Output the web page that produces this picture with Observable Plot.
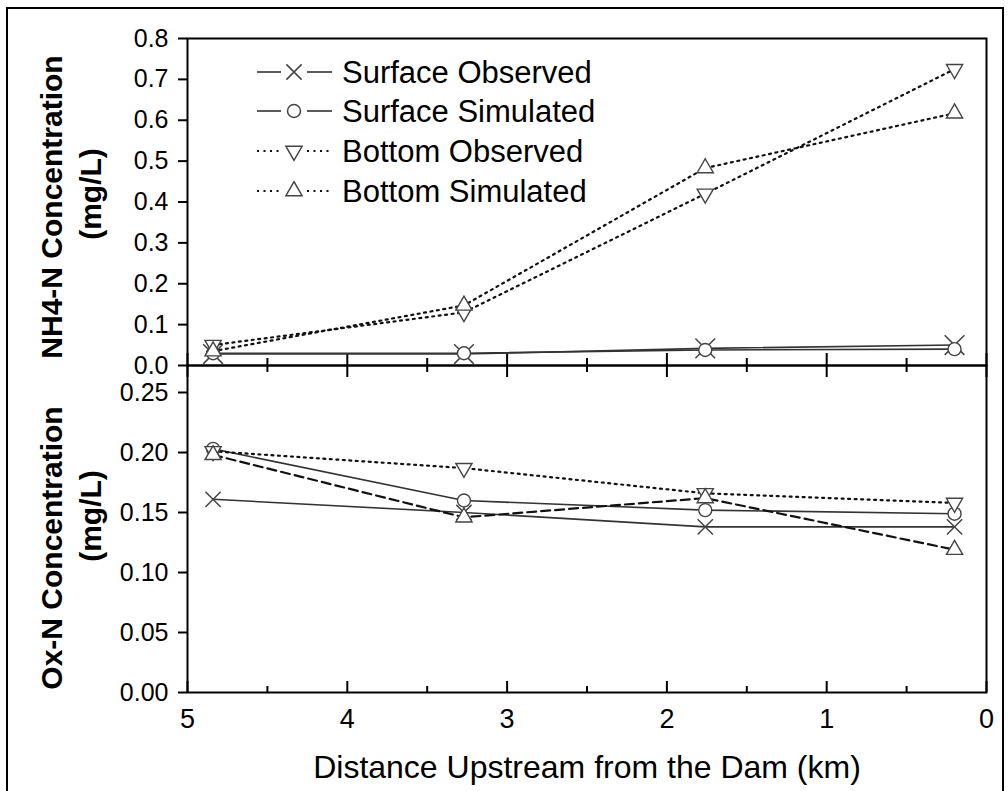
<!DOCTYPE html>
<html><head><meta charset="utf-8">
<script src="https://cdn.jsdelivr.net/npm/d3@7"></script>
<script src="https://cdn.jsdelivr.net/npm/@observablehq/plot@0.6"></script>
<style>
html,body{margin:0;padding:0;background:#fff;}
#wrap{position:relative;width:1008px;height:791px;overflow:hidden;font-family:"Liberation Sans",Arial,sans-serif;}
#wrap svg{position:absolute;left:0;top:0;}
#border{position:absolute;left:6px;top:7px;width:998px;height:820px;border:2px solid #000;box-sizing:border-box;}
</style></head><body><div id="wrap"><div id="border"></div></div>
<script>
// ---- data ----
const distance = [4.84, 3.27, 1.76, 0.20];
const surfObsNH4 = [0.028, 0.028, 0.042, 0.050];
const surfSimNH4 = [0.030, 0.030, 0.038, 0.040];
const botObsNH4  = [0.050, 0.130, 0.420, 0.725];
const botSimNH4  = [0.035, 0.147, 0.483, 0.617];
const surfObsOx  = [0.161, 0.150, 0.138, 0.138];
const surfSimOx  = [0.203, 0.160, 0.152, 0.149];
const botObsOx   = [0.201, 0.187, 0.166, 0.158];
const botSimOx   = [0.198, 0.146, 0.162, 0.119];
const xTicks = [0, 1, 2, 3, 4, 5];
const xMinor = [0.5, 1.5, 2.5, 3.5, 4.5];
const nh4Ticks = [0, 0.1, 0.2, 0.3, 0.4, 0.5, 0.6, 0.7, 0.8];
const oxTicks = [0, 0.05, 0.10, 0.15, 0.20, 0.25];
const seriesNames = ["Surface Observed", "Surface Simulated", "Bottom Observed", "Bottom Simulated"];

// ---- helpers ----
const FONT = '"Liberation Sans", Arial, sans-serif';
const W = 1008, H = 791;
const rows = vals => distance.map((d, i) => ({x: d, y: vals[i]}));
const triangleDown = {
  draw(ctx, size) {
    const y = Math.sqrt(size / (3 * Math.sqrt(3)));
    ctx.moveTo(0, y * 2);
    ctx.lineTo(-Math.sqrt(3) * y, -y);
    ctx.lineTo(Math.sqrt(3) * y, -y);
    ctx.closePath();
  }
};
const LINE = "#333", MK = "#444";
const dotted = {stroke: "#111", strokeWidth: 2.2, strokeDasharray: "2,4.5"};
const dashed = {stroke: "#111", strokeWidth: 2.2, strokeDasharray: "9,5"};
const solid = {stroke: LINE, strokeWidth: 1.6};

function markers(so, ss, bo, bs, xr) {
  return [
    Plot.dot(rows(so), {x: "x", y: "y", symbol: "times", r: xr, stroke: MK, strokeWidth: 1.5}),
    Plot.dot(rows(ss), {x: "x", y: "y", symbol: "circle", r: 6.5, fill: "white", stroke: MK, strokeWidth: 1.4}),
    Plot.dot(rows(bo), {x: "x", y: "y", symbol: triangleDown, r: 6, fill: "white", stroke: MK, strokeWidth: 1.4}),
    Plot.dot(rows(bs), {x: "x", y: "y", symbol: "triangle", r: 6, fill: "white", stroke: MK, strokeWidth: 1.4})
  ];
}

const wrap = document.getElementById("wrap");

// ---- top panel (NH4-N) ----
const topPlot = Plot.plot({
  width: W, height: H,
  marginLeft: 187, marginRight: 22, marginTop: 38, marginBottom: H - 365,
  style: {background: "transparent", fontFamily: FONT, color: "#000", overflow: "visible"},
  x: {domain: [5, 0], axis: null},
  y: {domain: [0, 0.8]},
  marks: [
    Plot.axisY({ticks: nh4Ticks, label: null, tickSize: 9, tickPadding: 10, tickFormat: d3.format(".1f"), strokeWidth: 2, fontSize: 25}),
    Plot.ruleX(xTicks, {x: d => d, y1: 0, y2: 0, insetTop: -12, insetBottom: -12, stroke: "#000", strokeWidth: 2}),
    Plot.ruleX(xMinor, {x: d => d, y1: 0, y2: 0, insetTop: -7, insetBottom: -7, stroke: "#000", strokeWidth: 2}),
    Plot.line(rows(surfObsNH4), {x: "x", y: "y", ...solid}),
    Plot.line(rows(surfSimNH4), {x: "x", y: "y", ...solid}),
    Plot.line(rows(botObsNH4), {x: "x", y: "y", ...dotted}),
    Plot.line(rows(botSimNH4), {x: "x", y: "y", ...dotted}),
    ...markers(surfObsNH4, surfSimNH4, botObsNH4, botSimNH4, 9),
    Plot.frame({stroke: "#000", strokeWidth: 2})
  ]
});
wrap.appendChild(topPlot);

// ---- bottom panel (Ox-N) ----
const botPlot = Plot.plot({
  width: W, height: H,
  marginLeft: 187, marginRight: 22, marginTop: 365, marginBottom: H - 692,
  style: {background: "transparent", fontFamily: FONT, color: "#000", overflow: "visible"},
  x: {domain: [5, 0]},
  y: {domain: [0, (692 - 365) / 1200]},
  marks: [
    Plot.axisY({ticks: oxTicks, label: null, tickSize: 9, tickPadding: 10, tickFormat: d3.format(".2f"), strokeWidth: 2, fontSize: 25}),
    Plot.axisX({ticks: xTicks, label: null, tickSize: 0, tickPadding: 16, tickFormat: d3.format("d"), fontSize: 27}),
    Plot.ruleX(xTicks, {x: d => d, y1: 0, y2: 0, insetTop: -11, insetBottom: 0, stroke: "#000", strokeWidth: 2}),
    Plot.ruleX(xMinor, {x: d => d, y1: 0, y2: 0, insetTop: -6, insetBottom: 0, stroke: "#000", strokeWidth: 2}),
    Plot.line(rows(surfObsOx), {x: "x", y: "y", ...solid}),
    Plot.line(rows(surfSimOx), {x: "x", y: "y", ...solid}),
    Plot.line(rows(botObsOx), {x: "x", y: "y", ...dotted}),
    Plot.line(rows(botSimOx), {x: "x", y: "y", ...dashed}),
    ...markers(surfObsOx, surfSimOx, botObsOx, botSimOx, 7),
    Plot.frame({stroke: "#000", strokeWidth: 2})
  ]
});
wrap.appendChild(botPlot);

// ---- overlay: titles + legend ----
const svg = d3.create("svg").attr("width", W).attr("height", H)
  .style("font-family", FONT);

function vTitle(lines, xs, ys) {
  lines.forEach((t, i) => {
    svg.append("text")
      .attr("transform", `translate(${xs[i]},${ys[i]}) rotate(-90)`)
      .attr("text-anchor", "middle")
      .attr("font-weight", "bold").attr("font-size", 30)
      .text(t);
  });
}
vTitle(["NH4-N Concentration", "(mg/L)"], [62, 101], [207, 194]);
vTitle(["Ox-N Concentration", "(mg/L)"], [62, 101], [548, 516]);

svg.append("text").attr("x", 587).attr("y", 778).attr("text-anchor", "middle")
  .attr("font-size", 32).text("Distance Upstream from the Dam (km)");

// legend
const legendSym = [d3.symbolTimes, d3.symbolCircle, triangleDown, d3.symbolTriangle];
const legendSize = [Math.PI * 49, Math.PI * 42, Math.PI * 36, Math.PI * 36];
const legendDash = [null, null, "2,4.5", "2,4.5"];
const rowY = [72, 111, 151, 191];
seriesNames.forEach((name, i) => {
  const y = rowY[i];
  const g = svg.append("g");
  [[257, 281], [307, 332]].forEach(([a, b]) => {
    g.append("line").attr("x1", a).attr("x2", b).attr("y1", y).attr("y2", y)
      .attr("stroke", legendDash[i] ? "#111" : LINE)
      .attr("stroke-width", legendDash[i] ? 2.2 : 1.6)
      .attr("stroke-dasharray", legendDash[i]);
  });
  g.append("path").attr("transform", `translate(294,${y})`)
    .attr("d", d3.symbol(legendSym[i], legendSize[i])())
    .attr("fill", i === 0 ? "none" : "white").attr("stroke", MK).attr("stroke-width", 1.5);
  g.append("text").attr("x", 342).attr("y", y + 11).attr("font-size", 31).text(name);
});
wrap.appendChild(svg.node());
</script></body></html>
